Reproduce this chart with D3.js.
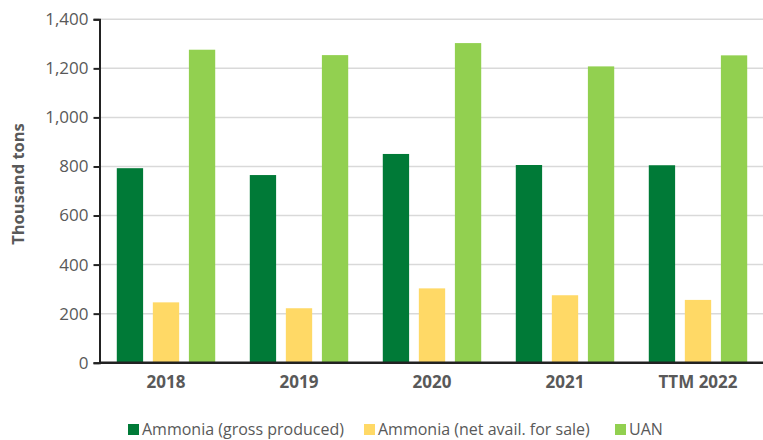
<!DOCTYPE html>
<html><head><meta charset="utf-8">
<script src="https://cdn.jsdelivr.net/npm/d3@7"></script>
<style>body{margin:0;background:#fff}svg{display:block;font-family:"Open Sans",sans-serif}</style>
</head><body><svg id="c" width="763" height="440"></svg>
<script>
const categories = ["2018","2019","2020","2021","TTM 2022"];
const seriesNames = ["Ammonia (gross produced)","Ammonia (net avail. for sale)","UAN"];
const ammoniaGross = [793,765,851,806,805];
const ammoniaNet = [246,222,303,275,256];
const uan = [1276,1254,1303,1208,1253];
const yTicks = [0,200,400,600,800,1000,1200,1400];
const colors = ["#007A37","#FFD966","#92D050"];

const series = [ammoniaGross, ammoniaNet, uan];
const svg = d3.select("#c");
const m = {l:99.5, r:763, t:19.3, b:362.7};
const x = d3.scaleBand().domain(categories).range([m.l, m.l+665]).paddingInner(0.26).paddingOuter(0.13);
const x1 = d3.scaleBand().domain(d3.range(3)).range([0, x.bandwidth()]).paddingInner(0.27);
const y = d3.scaleLinear().domain([0,1400]).range([m.b, m.t]);

// gridlines
svg.append("g").selectAll("line").data(yTicks.filter(d=>d>0)).join("line")
  .attr("x1", m.l).attr("x2", m.r).attr("y1", d=>y(d)).attr("y2", d=>y(d))
  .attr("stroke","#D9D9D9").attr("stroke-width",1.5);

// bars
const g = svg.append("g");
series.forEach((vals, si) => {
  g.selectAll(null).data(vals).join("rect")
    .attr("x", (d,i)=>x(categories[i]) + x1(si))
    .attr("width", x1.bandwidth())
    .attr("y", d=>y(d)).attr("height", d=>y(0)-y(d))
    .attr("fill", colors[si]);
});

// y axis
const ya = svg.append("g").attr("transform",`translate(${m.l},0)`)
  .call(d3.axisLeft(y).tickValues(yTicks).tickFormat(d3.format(",")).tickSize(6).tickPadding(5));
ya.select(".domain").attr("stroke","#222").attr("stroke-width",2);
ya.selectAll(".tick line").attr("stroke","#222").attr("stroke-width",2);
ya.selectAll("text").attr("fill","#595959").style("font-size","17px").style("font-family","Open Sans");

// x axis
const xa = svg.append("g").attr("transform",`translate(0,${m.b})`)
  .call(d3.axisBottom(x).tickSize(0).tickPadding(13));
xa.select(".domain").attr("d", `M${m.l},0H${m.r}`).attr("stroke","#222").attr("stroke-width",2.5);
xa.selectAll("text").attr("fill","#595959").style("font-size","17px").style("font-weight","bold").style("font-family","Open Sans");

// y title
svg.append("text").attr("transform","translate(24,184) rotate(-90)")
  .attr("text-anchor","middle").attr("fill","#595959")
  .style("font-size","16.5px").style("font-weight","bold").text("Thousand tons");

// legend
const legX = [128, 364, 615];
const lg = svg.append("g");
seriesNames.forEach((n,i)=>{
  lg.append("rect").attr("x",legX[i]).attr("y",424).attr("width",11).attr("height",11).attr("fill",colors[i]);
  lg.append("text").attr("x",legX[i]+14).attr("y",435).attr("fill","#595959")
    .style("font-size","16px").text(n);
});
</script></body></html>
